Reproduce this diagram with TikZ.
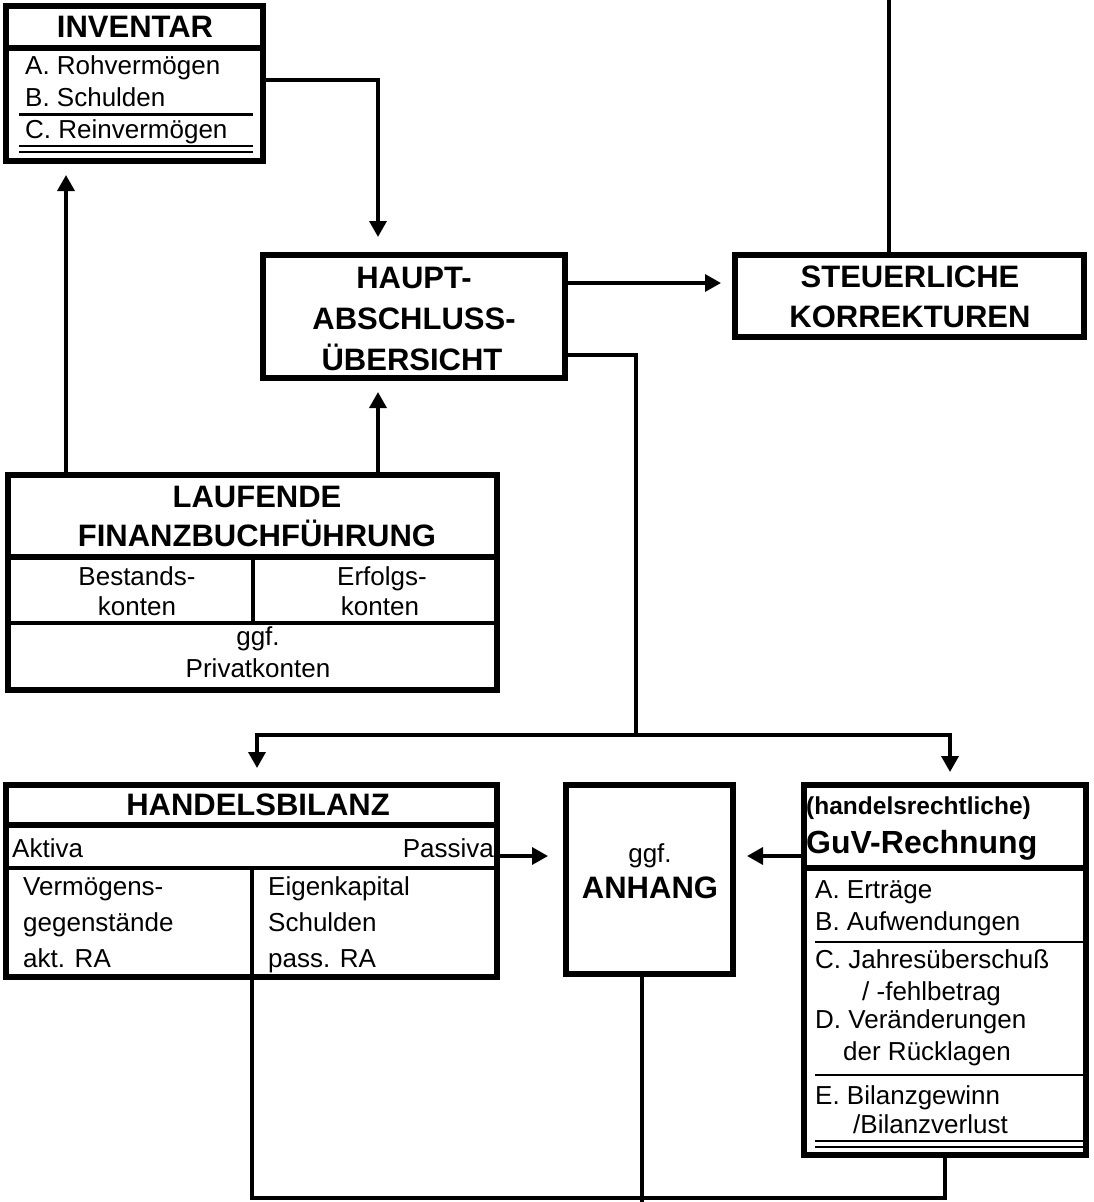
\documentclass[tikz,border=0pt]{standalone}
\usepackage{fontspec}
\setmainfont{Liberation Sans}
\usetikzlibrary{arrows.meta}
\begin{document}
\begin{tikzpicture}[x=1pt,y=-1pt,
  box/.style={draw, line width=6pt, inner sep=0pt, outer sep=0pt},
  sepline/.style={line width=6pt},
  midline/.style={line width=3.6pt},
  thinline/.style={line width=2.6pt},
  conn/.style={line width=3.5pt},
  arr/.style={conn, -{Triangle[length=16pt,width=17pt]}, shorten >=14pt},
  ttl/.style={font=\bfseries\fontsize{31}{37}\selectfont, inner sep=0pt, anchor=base},
  txt/.style={font=\fontsize{26}{31}\selectfont, inner sep=0pt, anchor=base west},
  ctxt/.style={txt, anchor=base},
]
\useasboundingbox (0,0) rectangle (1093,1202);

% ---------- boxes ----------
\node[box, minimum width=257pt, minimum height=155pt] (inv) at (134.5,83.5) {};
\node[box, minimum width=302pt, minimum height=123pt] (haupt) at (414,316.5) {};
\node[box, minimum width=349pt, minimum height=82pt] (steuer) at (909.5,296) {};
\node[box, minimum width=489pt, minimum height=215pt] (lauf) at (252.5,582.5) {};
\node[box, minimum width=491pt, minimum height=192pt] (hb) at (251.5,881) {};
\node[box, minimum width=167pt, minimum height=189pt] (anh) at (649.5,879.5) {};
\node[box, minimum width=282pt, minimum height=370pt] (guv) at (945,970) {};

% ---------- compartments ----------
\draw[sepline] (inv.west |- 0,48) -- (inv.east |- 0,48);
\draw[thinline] (19,114.5) -- (253,114.5);
\draw[thinline] (19,146) -- (253,146);
\draw[thinline] (19,152) -- (253,152);

\draw[sepline] (lauf.west |- 0,557) -- (lauf.east |- 0,557);
\draw[midline] (lauf.west |- 0,623) -- (lauf.east |- 0,623);
\draw[midline] (253,557) -- (253,623);

\draw[sepline] (hb.west |- 0,825) -- (hb.east |- 0,825);
\draw[midline] (hb.west |- 0,868) -- (hb.east |- 0,868);
\draw[midline] (252,868) -- (252,977);

\draw[sepline] (guv.west |- 0,868) -- (guv.east |- 0,868);
\draw[thinline] (815,942) -- (1083,942);
\draw[thinline] (815,1075) -- (1083,1075);
\draw[thinline] (815,1141) -- (1083,1141);
\draw[thinline] (815,1147) -- (1083,1147);

% ---------- texts ----------
\node[ttl] (t1) at (135,37) {INVENTAR};
\node[txt] (t2) at (25,74) {A. Rohvermögen};
\node[txt] (t3) at (25,106) {B. Schulden};
\node[txt] (t4) at (25,138) {C. Reinvermögen};

\node[ttl] (t5) at (414,288) {HAUPT-};
\node[ttl] (t6) at (414,329) {ABSCHLUSS-};
\node[ttl] (t7) at (412,370) {ÜBERSICHT};

\node[ttl] (t8) at (910,287) {STEUERLICHE};
\node[ttl] (t9) at (910,327) {KORREKTUREN};

\node[ttl] (t10) at (257,507) {LAUFENDE};
\node[ttl] (t11) at (257,546) {FINANZBUCHFÜHRUNG};
\node[ctxt] (t12) at (137,585) {Bestands-};
\node[ctxt] (t13) at (137,615) {konten};
\node[ctxt] (t14) at (382,585) {Erfolgs-};
\node[ctxt] (t15) at (380,615) {konten};
\node[ctxt] (t16) at (258,645) {ggf.};
\node[ctxt] (t17) at (258,677) {Privatkonten};

\node[ttl] (t18) at (258,815) {HANDELSBILANZ};
\node[txt] (t19) at (12,857) {Aktiva};
\node[txt, anchor=base east] (t20) at (494,857) {Passiva};
\node[txt] (t21) at (23,895) {Vermögens-};
\node[txt] (t22) at (23,931) {gegenstände};
\node[txt] (t23) at (23,967) {akt. RA};
\node[txt] (t24) at (268,895) {Eigenkapital};
\node[txt] (t25) at (268,931) {Schulden};
\node[txt] (t26) at (268,967) {pass. RA};

\node[ctxt] (t27) at (650,862) {ggf.};
\node[ttl] (t28) at (650,898) {ANHANG};

\node[inner sep=0pt, anchor=base west, font=\bfseries\fontsize{24.5}{29}\selectfont] (t29) at (806,814) {(handelsrechtliche)};
\node[inner sep=0pt, anchor=base west, font=\bfseries\fontsize{32}{38}\selectfont] (t30) at (806,853) {GuV-Rechnung};
\node[txt] (t31) at (815,898) {A. Erträge};
\node[txt] (t32) at (815,930) {B. Aufwendungen};
\node[txt] (t33) at (815,968) {C. Jahresüberschuß};
\node[txt] (t34) at (862,1000) {/ -fehlbetrag};
\node[txt] (t35) at (815,1028) {D. Veränderungen};
\node[txt] (t36) at (843,1060) {der Rücklagen};
\node[txt] (t37) at (815,1104) {E. Bilanzgewinn};
\node[txt] (t38) at (853,1133) {/Bilanzverlust};

% ---------- connectors ----------
\coordinate (k1) at (378,80);
\draw[arr, shorten >=18pt] (inv.east |- k1) -- (k1) -- (k1 |- haupt.north);
\coordinate (k2) at (66,300);
\draw[arr] (lauf.north -| k2) -- (inv.south -| k2);
\draw[arr] (lauf.north -| k1) -- (haupt.south -| k1);
\coordinate (k3) at (650,283);
\draw[arr] (haupt.east |- k3) -- (steuer.west |- k3);
\coordinate (k4) at (889,0);
\draw[conn] (steuer.north -| k4) -- (k4);

\coordinate (k5) at (636,355);
\coordinate (k6) at (636,735);
\coordinate (k7) at (257,735);
\coordinate (k8) at (950,735);
\draw[conn] (haupt.east |- k5) -- (k5) -- (k6);
\draw[arr, shorten >=17pt] (k6) -- (k7) -- (k7 |- hb.north);
\draw[arr, shorten >=13pt] (k6) -- (k8) -- (k8 |- guv.north);

\coordinate (k9) at (520,856);
\draw[arr, shorten >=18pt] (hb.east |- k9) -- (anh.west |- k9);
\draw[arr] (guv.west |- k9) -- (anh.east |- k9);

\coordinate (b1) at (252,1198);
\coordinate (b2) at (945,1198);
\coordinate (b3) at (642,1202);
\draw[conn] (hb.south -| b1) -- (b1) -- (b2) -- (guv.south -| b2);
\draw[conn] (anh.south -| b3) -- (b3);
\end{tikzpicture}
\end{document}
